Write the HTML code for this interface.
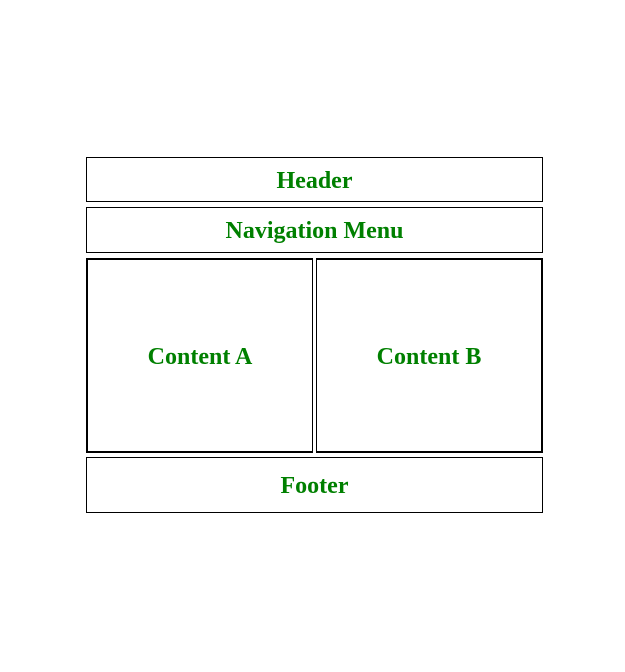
<!DOCTYPE html>
<html><head><style>
body{margin:0;width:625px;height:672px;background:#fff;position:relative;font-family:"Liberation Serif","Times New Roman",serif;}
.b{position:absolute;box-sizing:border-box;border:1px solid #000;display:flex;align-items:center;justify-content:center;color:#008000;font-weight:bold;font-size:24px;padding-top:3px;}
</style></head><body>
<div class="b" style="left:86px;top:157px;width:457px;height:45px;">Header</div>
<div class="b" style="left:86px;top:207px;width:457px;height:46px;">Navigation Menu</div>
<div class="b" style="left:86px;top:258px;width:227px;height:195px;border-width:2px 1px 2px 2px;">Content A</div>
<div class="b" style="left:316px;top:258px;width:227px;height:195px;border-width:2px 2px 2px 1px;">Content B</div>
<div class="b" style="left:86px;top:457px;width:457px;height:56px;">Footer</div>
</body></html>
